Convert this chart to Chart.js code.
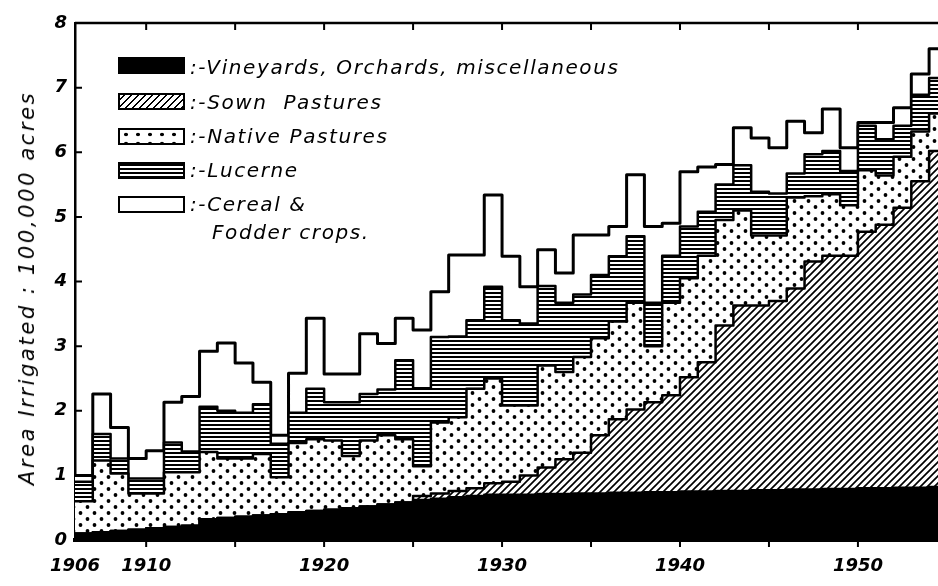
<!DOCTYPE html>
<html>
<head>
<meta charset="utf-8">
<script src="https://cdn.jsdelivr.net/npm/chart.js@4.4.1/dist/chart.umd.min.js"></script>
<style>
  html, body { margin: 0; padding: 0; background: #fff; }
  #wrap { position: relative; width: 938px; height: 586px; overflow: hidden; background: #fff; }
  #chart { position: absolute; left: 0; top: 0; }
  .ytitle {
    position: absolute; left: 27px; top: 288px;
    transform: translate(-50%, -50%) rotate(-90deg);
    white-space: nowrap; font: italic 21px 'DejaVu Sans'; letter-spacing: 2.6px; color: #000;
  }
  .sw { position: absolute; left: 118px; width: 63px; height: 13px; border: 2.5px solid #000; background: #fff; }
  .lbl { position: absolute; left: 190px; font: italic 20px 'DejaVu Sans'; line-height: 20px; letter-spacing: 1.6px; white-space: nowrap; color: #000; }
  .black { background: #000; }
  .hatch { background: repeating-linear-gradient(-45deg, #000 0 1.6px, #fff 1.6px 5px); }
  .dots { background: radial-gradient(circle, #000 1.6px, transparent 2.1px) 0 0 / 12px 9px, #fff; }
  .lines { background: repeating-linear-gradient(180deg, #000 0 2px, #fff 2px 4px); }
</style>
</head>
<body>
<div id="wrap">
  <canvas id="chart" width="938" height="586"></canvas>
  <div class="ytitle">Area Irrigated : 100,000 acres</div>

  <div class="sw black" style="top:57px"></div>
  <div class="lbl" style="top:57px">:-Vineyards, Orchards, miscellaneous</div>
  <div class="sw hatch" style="top:93px"></div>
  <div class="lbl" style="top:92px">:-Sown&nbsp; Pastures</div>
  <div class="sw dots" style="top:128px"></div>
  <div class="lbl" style="top:126px">:-Native Pastures</div>
  <div class="sw lines" style="top:162px"></div>
  <div class="lbl" style="top:160px">:-Lucerne</div>
  <div class="sw" style="top:196px"></div>
  <div class="lbl" style="top:194px">:-Cereal &amp;</div>
  <div class="lbl" style="top:222px; left:212px">Fodder crops.</div>
</div>
<script>
// one value per season, areas in 100,000 acres
const YEARS = [1906, 1907, 1908, 1909, 1910, 1911, 1912, 1913, 1914, 1915,
               1916, 1917, 1918, 1919, 1920, 1921, 1922, 1923, 1924, 1925,
               1926, 1927, 1928, 1929, 1930, 1931, 1932, 1933, 1934, 1935,
               1936, 1937, 1938, 1939, 1940, 1941, 1942, 1943, 1944, 1945,
               1946, 1947, 1948, 1949, 1950, 1951, 1952, 1953, 1954];

const VINEYARDS = [0.10, 0.12, 0.14, 0.16, 0.18, 0.20, 0.22, 0.32, 0.34, 0.36,
                   0.38, 0.40, 0.43, 0.45, 0.47, 0.49, 0.52, 0.55, 0.58, 0.62,
                   0.64, 0.66, 0.68, 0.70, 0.70, 0.70, 0.71, 0.71, 0.72, 0.72,
                   0.73, 0.73, 0.74, 0.74, 0.75, 0.75, 0.76, 0.76, 0.77, 0.77,
                   0.78, 0.78, 0.79, 0.79, 0.80, 0.80, 0.81, 0.81, 0.82];

const SOWN = [0, 0, 0, 0, 0, 0, 0, 0, 0, 0,
              0, 0, 0, 0, 0, 0, 0, 0, 0, 0.06,
              0.08, 0.10, 0.12, 0.18, 0.20, 0.30, 0.41, 0.54, 0.63, 0.90,
              1.14, 1.29, 1.39, 1.50, 1.77, 2.00, 2.56, 2.87, 2.86, 2.93,
              3.11, 3.53, 3.61, 3.61, 3.97, 4.08, 4.33, 4.74, 5.20];

const NATIVE = [0.50, 1.11, 0.89, 0.56, 0.54, 0.85, 0.83, 1.04, 0.92, 0.90,
                0.95, 0.57, 1.07, 1.11, 1.07, 0.81, 1.02, 1.07, 0.98, 0.46,
                1.10, 1.14, 1.54, 1.62, 1.18, 1.08, 1.58, 1.35, 1.48, 1.50,
                1.51, 1.65, 0.87, 1.43, 1.53, 1.65, 1.63, 1.47, 1.08, 1.01,
                1.41, 1.01, 0.95, 0.78, 0.95, 0.76, 0.79, 0.77, 0.58];

const LUCERNE = [0.30, 0.41, 0.23, 0.23, 0.23, 0.46, 0.32, 0.70, 0.74, 0.71,
                 0.77, 0.52, 0.47, 0.78, 0.59, 0.83, 0.72, 0.71, 1.22, 1.21,
                 1.32, 1.25, 1.06, 1.42, 1.32, 1.27, 1.23, 1.07, 0.97, 0.98,
                 1.01, 1.03, 0.67, 0.73, 0.80, 0.68, 0.55, 0.70, 0.68, 0.65,
                 0.37, 0.65, 0.67, 0.53, 0.69, 0.56, 0.48, 0.57, 0.55];

const CEREAL = [0.10, 0.62, 0.48, 0.31, 0.43, 0.62, 0.85, 0.86, 1.05, 0.77,
                0.34, 0.13, 0.61, 1.09, 0.44, 0.44, 0.93, 0.71, 0.65, 0.90,
                0.70, 1.26, 1.01, 1.42, 0.99, 0.57, 0.56, 0.46, 0.92, 0.62,
                0.46, 0.95, 1.18, 0.50, 0.85, 0.69, 0.31, 0.58, 0.83, 0.71,
                0.81, 0.33, 0.65, 0.36, 0.05, 0.26, 0.28, 0.32, 0.45];

const X_LABELS = [1906, 1910, 1920, 1930, 1940, 1950];
const X_MARKS = [1910, 1915, 1920, 1925, 1930, 1935, 1940, 1945, 1950, 1955];
const Y_TICKS = [0, 1, 2, 3, 4, 5, 6, 7, 8];

const canvas = document.getElementById('chart');
const ctx = canvas.getContext('2d');

function makePattern(w, h, paint) {
    const c = document.createElement('canvas');
    c.width = w;
    c.height = h;
    const g = c.getContext('2d');
    g.fillStyle = '#fff';
    g.fillRect(0, 0, w, h);
    g.fillStyle = '#000';
    g.strokeStyle = '#000';
    paint(g);
    return ctx.createPattern(c, 'repeat');
}

const hatch = makePattern(7, 7, g => {
    g.lineWidth = 1.7;
    g.beginPath();
    g.moveTo(-1, 8); g.lineTo(8, -1);
    g.moveTo(-1, 1); g.lineTo(1, -1);
    g.moveTo(6, 8); g.lineTo(8, 6);
    g.stroke();
});

const dots = makePattern(14, 12, g => {
    g.beginPath();
    g.arc(3.5, 3, 1.9, 0, Math.PI * 2);
    g.arc(10.5, 9, 1.9, 0, Math.PI * 2);
    g.fill();
});

const lines = makePattern(4, 4, g => {
    g.fillRect(0, 0, 4, 2);
});

// each season is a step from its year to the next one
function steps(values) {
    const pts = YEARS.map((yr, i) => ({ x: yr, y: values[i] }));
    pts.push({ x: YEARS[YEARS.length - 1] + 1, y: values[values.length - 1] });
    return pts;
}

const font = { family: 'DejaVu Sans', size: 18, style: 'italic', weight: 'bold' };

// top border and the little inward tick marks
const framePlugin = {
    id: 'frame',
    afterDraw(chart) {
        const { ctx, chartArea: a, scales: { x, y } } = chart;
        ctx.save();
        ctx.strokeStyle = '#000';
        ctx.lineWidth = 2.5;
        ctx.beginPath();
        ctx.moveTo(a.left, a.top);
        ctx.lineTo(a.right, a.top);
        ctx.stroke();
        ctx.lineWidth = 2;
        ctx.beginPath();
        X_MARKS.forEach(yr => {
            const px = x.getPixelForValue(yr);
            if (px > a.right) return;
            ctx.moveTo(px, a.top);
            ctx.lineTo(px, a.top + 7);
            ctx.moveTo(px, a.bottom);
            ctx.lineTo(px, a.bottom + 7);
        });
        Y_TICKS.slice(1, -1).forEach(v => {
            const py = y.getPixelForValue(v);
            ctx.moveTo(a.left, py);
            ctx.lineTo(a.left + 7, py);
        });
        ctx.stroke();
        ctx.restore();
    }
};

new Chart(ctx, {
    type: 'line',
    data: {
        datasets: [
            { label: 'Vineyards, Orchards, miscellaneous', data: steps(VINEYARDS), backgroundColor: '#000', fill: 'origin' },
            { label: 'Sown Pastures', data: steps(SOWN), backgroundColor: hatch, fill: '-1' },
            { label: 'Native Pastures', data: steps(NATIVE), backgroundColor: dots, fill: '-1' },
            { label: 'Lucerne', data: steps(LUCERNE), backgroundColor: lines, fill: '-1' },
            { label: 'Cereal & Fodder crops', data: steps(CEREAL), backgroundColor: '#fff', fill: '-1', borderWidth: 3 }
        ].map(ds => Object.assign({
            borderColor: '#000',
            borderWidth: 2.5,
            borderJoinStyle: 'round',
            stepped: true,
            pointRadius: 0
        }, ds))
    },
    options: {
        responsive: false,
        animation: false,
        events: [],
        layout: { padding: { top: 23, left: 0, right: 0, bottom: 0 } },
        plugins: {
            legend: { display: false },
            tooltip: { enabled: false }
        },
        scales: {
            x: {
                type: 'linear',
                min: 1906,
                max: 1954.5,
                afterBuildTicks: s => { s.ticks = X_LABELS.map(v => ({ value: v })); },
                afterFit: s => { s.height = 46; },
                grid: { drawOnChartArea: false, drawTicks: false },
                border: { color: '#000', width: 4 },
                ticks: {
                    color: '#000', font: font, padding: 16, maxRotation: 0, autoSkip: false,
                    callback: v => String(v)
                }
            },
            y: {
                stacked: true,
                min: 0,
                max: 8,
                afterBuildTicks: s => { s.ticks = Y_TICKS.map(v => ({ value: v })); },
                afterFit: s => { s.width = 75; },
                grid: { drawOnChartArea: false, drawTicks: false },
                border: { color: '#000', width: 2.5 },
                ticks: { color: '#000', font: font, padding: 8 }
            }
        }
    },
    plugins: [framePlugin]
});
</script>
</body>
</html>
